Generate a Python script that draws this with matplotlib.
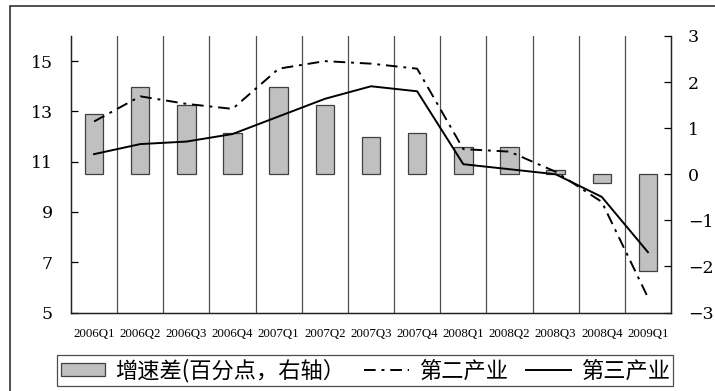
import numpy as np
import matplotlib
matplotlib.use('Agg')
from matplotlib import pyplot as plt
from matplotlib.patches import Rectangle, Patch
from matplotlib.lines import Line2D

quarters = ['2006Q1', '2006Q2', '2006Q3', '2006Q4', '2007Q1', '2007Q2', '2007Q3',
            '2007Q4', '2008Q1', '2008Q2', '2008Q3', '2008Q4', '2009Q1']
secondary = [12.6, 13.6, 13.3, 13.1, 14.7, 15.0, 14.9, 14.7, 11.5, 11.4, 10.6, 9.4, 5.6]
tertiary = [11.3, 11.7, 11.8, 12.1, 12.8, 13.5, 14.0, 13.8, 10.9, 10.7, 10.5, 9.6, 7.4]
gap = [1.3, 1.9, 1.5, 0.9, 1.9, 1.5, 0.8, 0.9, 0.6, 0.6, 0.1, -0.2, -2.1]
left_ticks = [5, 7, 9, 11, 13, 15]
right_ticks = [-3, -2, -1, 0, 1, 2, 3]

cjk = ['Noto Sans CJK SC', 'DejaVu Sans']

fig = plt.figure(figsize=(7.15, 3.91), dpi=100, facecolor='#ffffff')
ax = fig.add_axes([71/715, 1 - 312.5/391, 600/715, 276.5/391])
ax2 = ax.twinx()
ax.set_zorder(ax2.get_zorder() + 1)
ax.patch.set_visible(False)

x = np.arange(len(quarters))

# bars on the right axis
ax2.bar(x, gap, width=0.4, color='#c0c0c0', edgecolor='#404040', linewidth=0.9)
ax2.set_ylim(-3, 3)
ax2.set_yticks(right_ticks)
ax2.set_yticklabels([str(t).replace('-', '\u2212') for t in right_ticks],
                    family='DejaVu Serif', fontsize=12.5)
ax2.tick_params(axis='y', direction='in', length=5, pad=12, width=0.9)

# category separators
for b in np.arange(0.5, len(quarters) - 0.5, 1.0):
    ax2.axvline(b, color='#505050', linewidth=0.9, zorder=0)

ax.plot(x, secondary, color='black', linewidth=1.4, dashes=(6, 3, 1.5, 3))
ax.plot(x, tertiary, color='black', linewidth=1.4)
ax.set_xlim(-0.5, len(quarters) - 0.5)
ax.set_ylim(5, 16)
ax.set_yticks(left_ticks)
ax.set_yticklabels([str(t) for t in left_ticks], family='DejaVu Serif', fontsize=12.5)
ax.tick_params(axis='y', direction='in', length=5, pad=13, width=0.9)
ax.set_xticks(x)
ax.set_xticklabels(quarters, family='Liberation Serif', fontsize=9.3)
ax.tick_params(axis='x', length=0, pad=11)

for a in (ax, ax2):
    a.spines['top'].set_visible(False)
    for s in ('left', 'right', 'bottom'):
        a.spines[s].set_color('#202020')
        a.spines[s].set_linewidth(0.9)

handles = [Patch(facecolor='#c0c0c0', edgecolor='#404040', linewidth=0.9),
           Line2D([], [], color='black', linewidth=1.4, dashes=(6, 3, 1.5, 3)),
           Line2D([], [], color='black', linewidth=1.4)]
labels = ['增速差(百分点，右轴）', '第二产业', '第三产业']
leg = fig.legend(handles, labels, loc='center', bbox_to_anchor=(0.511, 0.052),
                 ncol=3, prop={'family': cjk, 'size': 16}, frameon=True,
                 fancybox=False, borderpad=0.15, handlelength=2.0, handleheight=0.55,
                 handletextpad=0.45, columnspacing=0.85, borderaxespad=0)
leg.get_frame().set_edgecolor('#202020')
leg.get_frame().set_linewidth(0.9)

# outer border
fig.patches.append(Rectangle((10/715, -0.05), 1.0, 1.05 - 6/391, transform=fig.transFigure,
                             fill=False, edgecolor='#202020', linewidth=1.1))

fig.savefig('out.png', dpi=100, facecolor='#ffffff')
